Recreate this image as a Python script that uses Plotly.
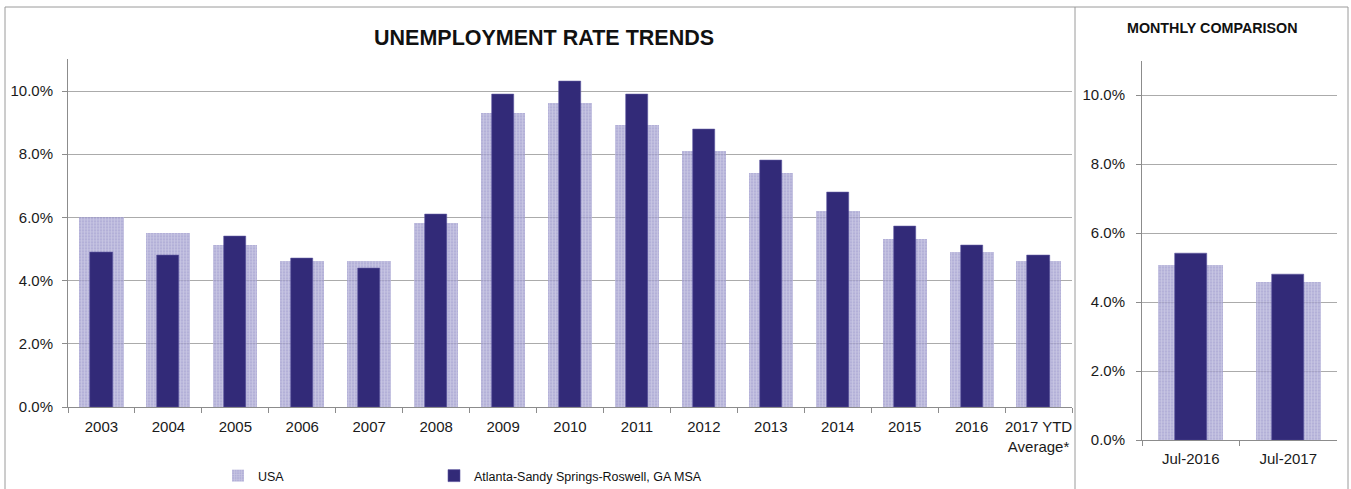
import plotly.graph_objects as go

years = ["2003", "2004", "2005", "2006", "2007", "2008", "2009", "2010", "2011",
         "2012", "2013", "2014", "2015", "2016", "2017 YTD<br>Average*"]
usa_annual = [6.0, 5.5, 5.1, 4.6, 4.6, 5.8, 9.3, 9.6, 8.9, 8.1, 7.4, 6.2, 5.3, 4.9, 4.6]
atl_annual = [4.9, 4.8, 5.4, 4.7, 4.4, 6.1, 9.9, 10.3, 9.9, 8.8, 7.8, 6.8, 5.7, 5.1, 4.8]

months = ["Jul-2016", "Jul-2017"]
usa_month = [5.1, 4.6]
atl_month = [5.4, 4.8]

y_ticks = [0, 2, 4, 6, 8, 10]
y_tick_labels = ["0.0%", "2.0%", "4.0%", "6.0%", "8.0%", "10.0%"]

W, H = 1351, 489
USA_COLOR = "rgba(150,146,202,0.72)"
ATL_COLOR = "#322a78"
FONT = "Liberation Sans, Arial, sans-serif"
NARROW = "Liberation Sans Narrow, Arial Narrow, Liberation Sans, sans-serif"

usa_pattern = dict(shape="+", fgcolor="rgba(255,255,255,0.6)", size=3, solidity=0.4)

fig = go.Figure()
fig.add_trace(go.Bar(x=years, y=usa_annual, name="USA", width=0.66,
                     marker=dict(color=USA_COLOR, pattern=usa_pattern, line=dict(width=0)),
                     xaxis="x", yaxis="y", legend="legend"))
fig.add_trace(go.Bar(x=years, y=atl_annual, name="Atlanta-Sandy Springs-Roswell, GA MSA", width=0.33,
                     marker=dict(color=ATL_COLOR, line=dict(color="#5c56a0", width=0.6)),
                     xaxis="x", yaxis="y", legend="legend2"))
fig.add_trace(go.Bar(x=months, y=usa_month, name="USA", width=0.67, showlegend=False,
                     marker=dict(color=USA_COLOR, pattern=usa_pattern, line=dict(width=0)),
                     xaxis="x2", yaxis="y2"))
fig.add_trace(go.Bar(x=months, y=atl_month, name="Atlanta-Sandy Springs-Roswell, GA MSA", width=0.33,
                     showlegend=False,
                     marker=dict(color=ATL_COLOR, line=dict(color="#5c56a0", width=0.6)),
                     xaxis="x2", yaxis="y2"))

def px_x(p):
    return p / W

def px_y(p):
    return 1 - p / H

axis_common = dict(showline=True, linecolor="#8c8c8c", linewidth=1,
                   ticks="outside", ticklen=5, tickcolor="#8c8c8c",
                   tickfont=dict(family=FONT, size=15, color="#1a1a1a"))

legend_common = dict(orientation="h", yanchor="middle", xanchor="left",
                     font=dict(family=NARROW, size=12.5, color="#111111"),
                     itemwidth=30, bgcolor="rgba(0,0,0,0)")

fig.update_layout(
    width=W, height=H, margin=dict(l=0, r=0, t=0, b=0, pad=0, autoexpand=False),
    paper_bgcolor="white", plot_bgcolor="white",
    barmode="overlay", bargap=0,
    showlegend=True,
    legend=dict(x=px_x(218), y=px_y(476), **legend_common),
    legend2=dict(x=px_x(434), y=px_y(476), **legend_common),
    xaxis=dict(domain=[px_x(68), px_x(1072)], anchor="y", tickson="boundaries",
               tickangle=0, showgrid=False, ticklabelstandoff=6, **axis_common),
    yaxis=dict(domain=[px_y(407), px_y(59.4)], anchor="x", range=[0, 11],
               tickvals=y_ticks, ticktext=y_tick_labels,
               showgrid=True, gridcolor="#ababab", gridwidth=1, zeroline=False,
               ticklabelstandoff=6, **axis_common),
    xaxis2=dict(domain=[px_x(1142), px_x(1337)], anchor="y2", tickson="boundaries",
                tickangle=0, showgrid=False, ticklabelstandoff=5, **axis_common),
    yaxis2=dict(domain=[px_y(440), px_y(60.5)], anchor="x2", range=[0, 11],
                tickvals=y_ticks, ticktext=y_tick_labels,
                showgrid=True, gridcolor="#ababab", gridwidth=1, zeroline=False,
                ticklabelstandoff=8, **axis_common),
)

border = dict(color="#9a9a9a", width=1)
for x0, y0, x1, y1 in [(5, 7, 1348, 7), (5, 7, 5, 489), (1075, 7, 1075, 489), (1348, 7, 1348, 489)]:
    fig.add_shape(type="line", xref="paper", yref="paper",
                  x0=px_x(x0), y0=px_y(y0), x1=px_x(x1), y1=px_y(y1), line=border)

fig.add_annotation(text="<b>UNEMPLOYMENT RATE TRENDS</b>", xref="paper", yref="paper",
                   x=px_x(544), y=px_y(38), xanchor="center", yanchor="middle", showarrow=False,
                   font=dict(family=FONT, size=21.5, color="#111111"))
fig.add_annotation(text="<b>MONTHLY COMPARISON</b>", xref="paper", yref="paper",
                   x=px_x(1212), y=px_y(28), xanchor="center", yanchor="middle", showarrow=False,
                   font=dict(family=FONT, size=14.3, color="#111111"))

fig.write_html("out.html", post_script="document.body.style.margin='0px';")
